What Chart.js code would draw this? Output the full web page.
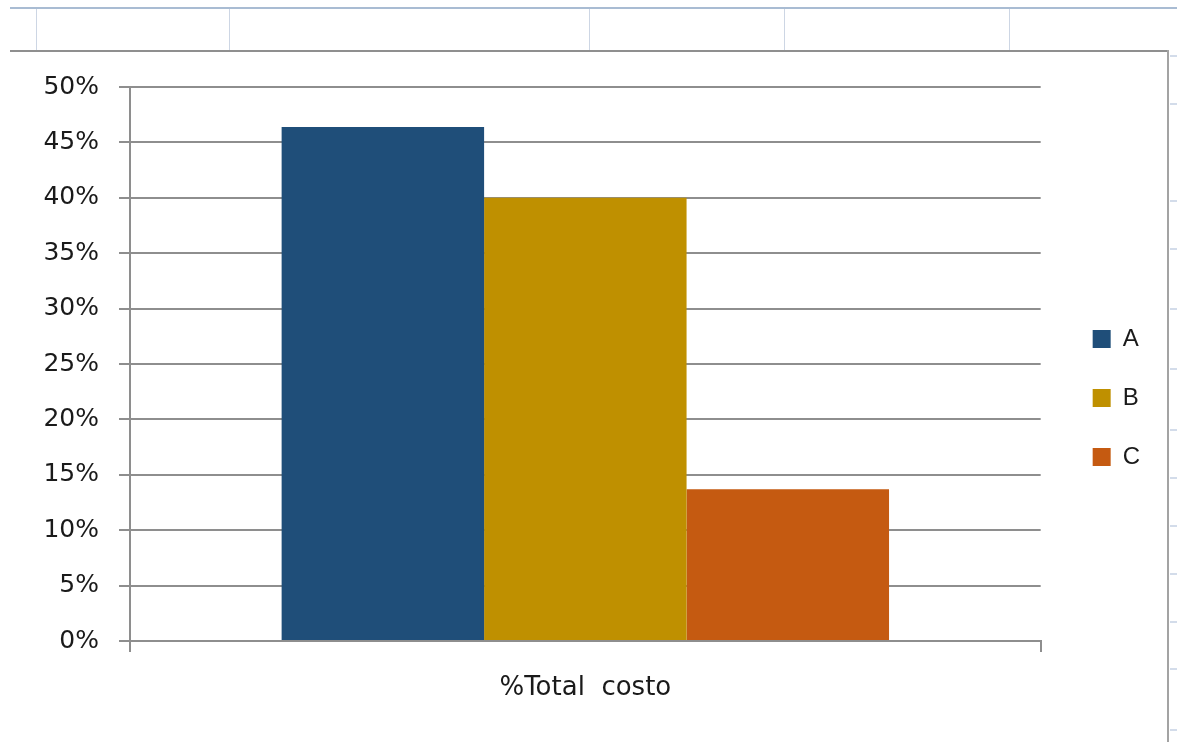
<!DOCTYPE html>
<html>
<head>
<meta charset="utf-8">
<script src="https://cdn.jsdelivr.net/npm/chart.js@4.4.1/dist/chart.umd.min.js"></script>
<style>
  html, body { margin: 0; padding: 0; background: #ffffff; }
  #wrap { position: relative; width: 1177px; height: 742px; overflow: hidden; background: #fff; }
  .hl { position: absolute; height: 2px; background: #a9bcd3; }
  .vl { position: absolute; width: 1px; background: #cdd6e4; }
  .tick { position: absolute; left: 1170px; width: 7px; height: 2px; background: #d3dcea; }
  #frameTop { position: absolute; left: 10px; top: 50px; width: 1159px; height: 2px; background: #8f8f8f; }
  #frameRight { position: absolute; left: 1167px; top: 50px; width: 2px; height: 700px; background: #a3a3a3; }
  canvas { position: absolute; left: 0; top: 0; }
</style>
</head>
<body>
<div id="wrap">
  <div class="hl" style="left:10px; top:7px; width:1167px;"></div>
  <div class="vl" style="left:36px; top:9px; height:42px;"></div>
  <div class="vl" style="left:229px; top:9px; height:42px;"></div>
  <div class="vl" style="left:589px; top:9px; height:42px;"></div>
  <div class="vl" style="left:784px; top:9px; height:42px;"></div>
  <div class="vl" style="left:1009px; top:9px; height:42px;"></div>
  <div class="tick" style="top:55px"></div>
  <div class="tick" style="top:103px"></div>
  <div class="tick" style="top:200px"></div>
  <div class="tick" style="top:248px"></div>
  <div class="tick" style="top:308px"></div>
  <div class="tick" style="top:368px"></div>
  <div class="tick" style="top:429px"></div>
  <div class="tick" style="top:477px"></div>
  <div class="tick" style="top:525px"></div>
  <div class="tick" style="top:573px"></div>
  <div class="tick" style="top:621px"></div>
  <div class="tick" style="top:668px"></div>
  <div class="tick" style="top:729px"></div>
  <div id="frameTop"></div>
  <div id="frameRight"></div>
  <canvas id="c" width="1177" height="742"></canvas>
</div>
<script>
// ---- data ----
const categories = ['%Total  costo'];
const seriesNames = ['A', 'B', 'C'];
const valuesA = [46.4];
const valuesB = [40.0];
const valuesC = [13.7];
const yTickValues = [0, 5, 10, 15, 20, 25, 30, 35, 40, 45, 50];
const seriesColors = ['#1F4E79', '#BF9000', '#C55A11'];

const gridColor = '#8e8e8e';
const textColor = '#1a1a1a';

const ctx = document.getElementById('c').getContext('2d');
new Chart(ctx, {
  type: 'bar',
  data: {
    labels: categories,
    datasets: [
      { label: seriesNames[0], data: valuesA, backgroundColor: seriesColors[0] },
      { label: seriesNames[1], data: valuesB, backgroundColor: seriesColors[1] },
      { label: seriesNames[2], data: valuesC, backgroundColor: seriesColors[2] }
    ]
  },
  options: {
    responsive: false,
    animation: false,
    devicePixelRatio: 1,
    categoryPercentage: 0.667,
    barPercentage: 1.0,
    layout: { padding: { left: 0, top: 87, right: 27, bottom: 33 } },
    plugins: {
      legend: {
        position: 'right',
        align: 'center',
        labels: {
          boxWidth: 18,
          boxHeight: 18,
          padding: 35,
          color: textColor,
          font: { family: 'Liberation Sans, Arial, sans-serif', size: 24 }
        }
      },
      tooltip: { enabled: false },
      title: { display: false }
    },
    scales: {
      x: {
        type: 'category',
        offset: true,
        grid: {
          display: true,
          offset: true,
          drawOnChartArea: false,
          drawTicks: true,
          tickLength: 11,
          color: gridColor,
          lineWidth: 2
        },
        border: { display: true, color: gridColor, width: 2 },
        ticks: {
          padding: 21,
          color: textColor,
          font: { family: 'DejaVu Sans, sans-serif', size: 26 }
        },
        afterFit(s) { s.height = 68; }
      },
      y: {
        type: 'linear',
        min: 0,
        max: 50,
        afterBuildTicks(s) { s.ticks = yTickValues.map(v => ({ value: v })); },
        grid: {
          color: gridColor,
          lineWidth: 2,
          drawTicks: true,
          tickLength: 11
        },
        border: { display: true, color: gridColor, width: 2 },
        ticks: {
          padding: 20,
          color: textColor,
          font: { family: 'DejaVu Sans, sans-serif', size: 25 },
          callback: (v) => v + '%'
        },
        afterFit(s) { s.width = 130; }
      },
      yRightSpacer: {
        type: 'linear',
        position: 'right',
        display: true,
        min: 0,
        max: 1,
        grid: { display: false, drawTicks: false },
        border: { display: false },
        ticks: { display: false },
        afterFit(s) { s.width = 17; }
      }
    }
  }
});
</script>
</body>
</html>
